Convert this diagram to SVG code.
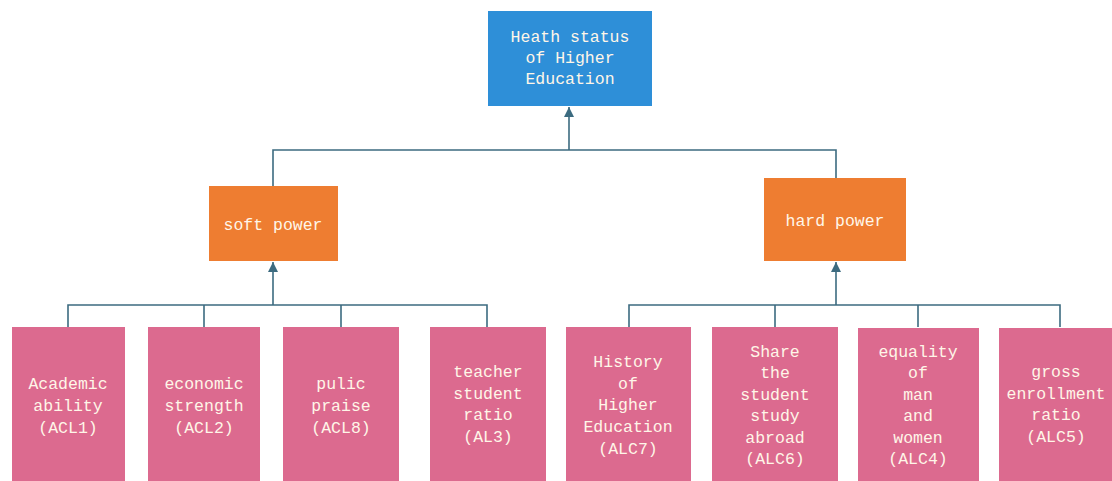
<svg xmlns="http://www.w3.org/2000/svg" width="1112" height="481" viewBox="0 0 1112 481">
<style>
.t{font-family:"Liberation Mono","DejaVu Sans Mono",monospace;font-size:16.5px;fill:#FFF6E8;text-anchor:middle}
.blue{fill:#2E8FD8}
.orange{fill:#EE7D31}
.pink{fill:#DC6A8F}
.c{stroke:#3C6B80;stroke-width:1.6;fill:none}
</style>
<defs>
<marker id="ah" viewBox="0 0 10 10" refX="10" refY="5" markerWidth="10" markerHeight="10" markerUnits="userSpaceOnUse" orient="auto">
<path d="M0,0 L10,5 L0,10 Z" fill="#3C6B80"/>
</marker>
</defs>
<rect width="1112" height="481" fill="#ffffff"/>
<g id="connectors">
<path class="c" d="M569,150 V107" marker-end="url(#ah)"/>
<path class="c" d="M273,186 V150 H836 V178"/>
<path class="c" d="M273,305 V262" marker-end="url(#ah)"/>
<path class="c" d="M68,327 V305 H487 V327 M204,305 V327 M341,305 V327"/>
<path class="c" d="M836,305 V262" marker-end="url(#ah)"/>
<path class="c" d="M629,327 V305 H1060 V327 M775,305 V327 M918,305 V327"/>
</g>
<g id="root">
<rect class="blue" x="488" y="11" width="164" height="95"/>
<text class="t" x="570" y="42">Heath status</text>
<text class="t" x="570" y="63">of Higher</text>
<text class="t" x="570" y="84">Education</text>
</g>
<g id="soft">
<rect class="orange" x="209" y="186" width="129" height="75"/>
<text class="t" x="273" y="230">soft power</text>
</g>
<g id="hard">
<rect class="orange" x="764" y="178" width="142" height="83"/>
<text class="t" x="835" y="226">hard power</text>
</g>
<g id="acl1">
<rect class="pink" x="12" y="327" width="113" height="154"/>
<text class="t" x="68" y="389">Academic</text>
<text class="t" x="68" y="411">ability</text>
<text class="t" x="68" y="433">(ACL1)</text>
</g>
<g id="acl2">
<rect class="pink" x="148" y="327" width="112" height="154"/>
<text class="t" x="204" y="389">economic</text>
<text class="t" x="204" y="411">strength</text>
<text class="t" x="204" y="433">(ACL2)</text>
</g>
<g id="acl8">
<rect class="pink" x="283" y="327" width="116" height="154"/>
<text class="t" x="341" y="389">pulic</text>
<text class="t" x="341" y="411">praise</text>
<text class="t" x="341" y="433">(ACL8)</text>
</g>
<g id="al3">
<rect class="pink" x="430" y="327" width="116" height="154"/>
<text class="t" x="488" y="377">teacher</text>
<text class="t" x="488" y="399">student</text>
<text class="t" x="488" y="420">ratio</text>
<text class="t" x="488" y="442">(AL3)</text>
</g>
<g id="alc7">
<rect class="pink" x="566" y="327" width="125" height="154"/>
<text class="t" x="628" y="367">History</text>
<text class="t" x="628" y="389">of</text>
<text class="t" x="628" y="410">Higher</text>
<text class="t" x="628" y="432">Education</text>
<text class="t" x="628" y="454">(ALC7)</text>
</g>
<g id="alc6">
<rect class="pink" x="712" y="327" width="126" height="154"/>
<text class="t" x="775" y="357">Share</text>
<text class="t" x="775" y="378">the</text>
<text class="t" x="775" y="400">student</text>
<text class="t" x="775" y="421">study</text>
<text class="t" x="775" y="443">abroad</text>
<text class="t" x="775" y="464">(ALC6)</text>
</g>
<g id="alc4">
<rect class="pink" x="858" y="328" width="121" height="153"/>
<text class="t" x="918" y="357">equality</text>
<text class="t" x="918" y="378">of</text>
<text class="t" x="918" y="400">man</text>
<text class="t" x="918" y="421">and</text>
<text class="t" x="918" y="443">women</text>
<text class="t" x="918" y="464">(ALC4)</text>
</g>
<g id="alc5">
<rect class="pink" x="999" y="328" width="113" height="153"/>
<text class="t" x="1056" y="377">gross</text>
<text class="t" x="1056" y="399">enrollment</text>
<text class="t" x="1056" y="420">ratio</text>
<text class="t" x="1056" y="442">(ALC5)</text>
</g>
</svg>
